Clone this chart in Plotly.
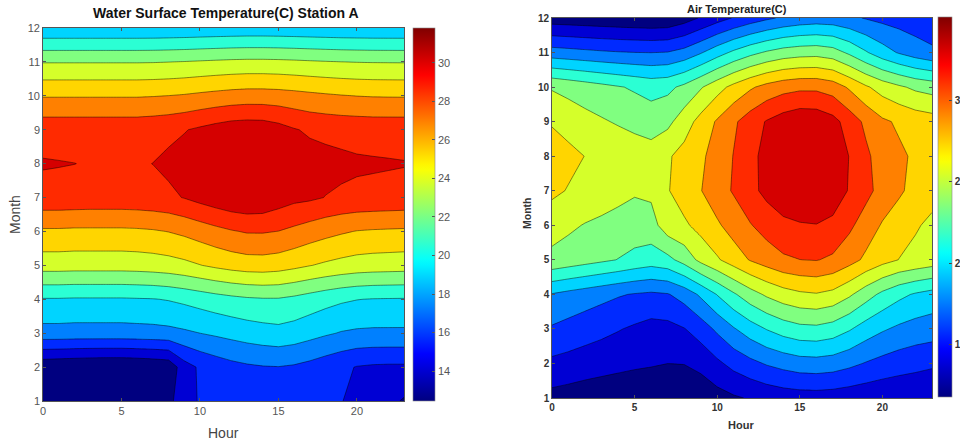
import plotly.graph_objects as go

# ---------------- data ----------------
hours = list(range(24))
months = list(range(1, 13))

# Water surface temperature (C), Station A : one list per month, hours 0..23
water_m1 = [14.1, 13.6, 13.5, 13.4, 13.4, 13.4, 13.45, 13.5, 13.6, 15.1, 15.8, 16.1, 16.3, 16.45, 16.5, 16.5, 16.4, 16.2, 15.9, 15.75, 15.1, 14.8, 14.5, 13.9]
water_m2 = [12.8, 12.7, 12.6, 12.5, 12.45, 12.45, 12.55, 12.7, 12.9, 15.0, 15.9, 16.4, 16.8, 17.05, 17.2, 17.25, 17.1, 16.8, 16.4, 16.0, 15.6, 15.45, 15.4, 15.4]
water_m3 = [18.3, 18.3, 18.25, 18.25, 18.25, 18.25, 18.3, 18.35, 18.45, 18.65, 18.9, 19.15, 19.4, 19.65, 19.85, 20.0, 19.8, 19.45, 19.1, 18.8, 18.65, 18.6, 18.6, 18.6]
water_m4 = [20.4, 20.4, 20.35, 20.35, 20.35, 20.35, 20.4, 20.45, 20.6, 20.85, 21.15, 21.45, 21.7, 21.9, 22.0, 22.0, 21.75, 21.4, 21.05, 20.75, 20.55, 20.45, 20.42, 20.4]
water_m5 = [24.45, 24.45, 24.4, 24.4, 24.4, 24.4, 24.45, 24.55, 24.7, 24.95, 25.3, 25.65, 25.95, 26.15, 26.2, 26.05, 25.75, 25.4, 25.1, 24.85, 24.65, 24.55, 24.5, 24.45]
water_m6 = [26.7, 26.7, 26.65, 26.65, 26.65, 26.65, 26.7, 26.8, 27.0, 27.3, 27.7, 28.1, 28.45, 28.7, 28.7, 28.55, 28.2, 27.8, 27.45, 27.15, 26.9, 26.8, 26.75, 26.7]
water_m7 = [29.7, 29.7, 29.65, 29.6, 29.6, 29.6, 29.65, 29.75, 29.9, 30.25, 30.7, 31.1, 31.45, 31.6, 31.5, 31.0, 30.6, 30.45, 30.15, 29.95, 29.85, 29.8, 29.75, 29.7]
water_m8 = [30.3, 30.25, 30.2, 30.1, 30.05, 30.0, 30.05, 30.2, 30.5, 30.85, 31.2, 31.5, 31.7, 31.8, 31.75, 31.55, 31.2, 30.9, 30.7, 30.55, 30.4, 30.35, 30.3, 30.25]
water_m9 = [29.6, 29.6, 29.6, 29.6, 29.6, 29.6, 29.6, 29.7, 29.85, 30.1, 30.45, 30.8, 31.1, 31.2, 31.15, 30.8, 30.3, 29.95, 29.8, 29.7, 29.65, 29.6, 29.6, 29.6]
water_m10 = [26.85, 26.85, 26.85, 26.85, 26.85, 26.85, 26.85, 26.9, 26.98, 27.1, 27.28, 27.45, 27.6, 27.7, 27.7, 27.63, 27.49, 27.32, 27.17, 27.04, 26.94, 26.88, 26.86, 26.85]
water_m11 = [23.65, 23.65, 23.65, 23.65, 23.65, 23.65, 23.65, 23.67, 23.72, 23.79, 23.88, 23.97, 24.05, 24.1, 24.1, 24.06, 23.99, 23.9, 23.82, 23.75, 23.7, 23.67, 23.66, 23.65]
water_m12 = [19.15, 19.15, 19.15, 19.15, 19.15, 19.15, 19.15, 19.16, 19.19, 19.23, 19.28, 19.33, 19.37, 19.4, 19.4, 19.38, 19.34, 19.29, 19.25, 19.2, 19.18, 19.16, 19.15, 19.15]

# Air temperature (C) : one list per month, hours 0..23
air_m1 = [13.1, 12.9, 12.7, 12.5, 12.3, 12.1, 11.95, 11.8, 11.9, 12.4, 13.0, 13.5, 13.9, 14.3, 14.6, 14.75, 14.8, 14.7, 14.5, 14.3, 14.1, 14.0, 13.95, 13.9]
air_m2 = [15.25, 15.0, 14.7, 14.5, 14.3, 14.1, 13.95, 13.75, 13.8, 14.3, 15.3, 16.3, 17.1, 17.8, 18.3, 18.7, 18.8, 18.6, 18.1, 17.5, 17.0, 16.6, 16.3, 16.0]
air_m3 = [17.4, 17.0, 16.6, 16.2, 15.8, 15.4, 15.0, 15.1, 15.6, 16.6, 18.0, 19.4, 20.6, 21.6, 22.4, 22.9, 23.0, 22.6, 21.7, 20.6, 19.8, 19.2, 18.8, 18.6]
air_m4 = [19.45, 19.0, 18.6, 18.2, 17.8, 17.5, 17.3, 17.5, 18.4, 19.9, 21.6, 23.2, 24.6, 25.7, 26.5, 27.0, 27.2, 26.8, 25.7, 24.3, 23.0, 22.0, 21.3, 20.8]
air_m5 = [25.0, 24.6, 24.2, 23.8, 23.4, 22.9, 22.5, 22.9, 24.2, 25.9, 27.1, 28.3, 29.4, 30.2, 30.9, 31.2, 31.3, 30.9, 30.0, 28.9, 28.0, 27.3, 26.9, 26.5]
air_m6 = [26.0, 25.7, 25.3, 25.0, 24.7, 24.5, 24.6, 26.5, 27.0, 28.0, 29.0, 30.1, 31.1, 32.0, 32.7, 33.0, 33.1, 32.7, 31.6, 30.3, 29.1, 28.2, 27.5, 27.0]
air_m7 = [27.8, 27.2, 26.7, 26.4, 26.0, 25.6, 25.8, 27.2, 28.3, 29.2, 30.4, 31.4, 32.6, 33.7, 34.5, 34.8, 34.8, 34.3, 33.0, 31.8, 30.5, 29.6, 28.6, 27.9]
air_m8 = [28.6, 27.9, 27.3, 27.0, 26.8, 26.5, 26.3, 27.1, 28.0, 29.0, 29.9, 31.3, 32.6, 33.8, 34.7, 35.1, 35.0, 34.5, 33.1, 31.6, 30.3, 29.6, 29.0, 28.5]
air_m9 = [27.1, 26.5, 26.0, 25.6, 25.2, 24.8, 24.4, 24.9, 26.4, 28.0, 29.5, 30.9, 32.2, 33.3, 34.1, 34.6, 34.5, 33.8, 32.3, 30.8, 29.6, 29.0, 28.5, 28.2]
air_m10 = [25.2, 24.8, 24.4, 24.0, 23.6, 23.2, 22.8, 23.0, 23.9, 25.2, 26.6, 27.9, 29.0, 29.9, 30.5, 30.8, 30.8, 30.3, 29.0, 27.6, 26.5, 25.7, 25.0, 24.6]
air_m11 = [18.5, 18.3, 18.1, 17.9, 17.75, 17.65, 17.6, 17.7, 18.3, 19.4, 20.7, 21.9, 22.9, 23.7, 24.3, 24.6, 24.7, 24.3, 23.1, 21.7, 20.4, 19.4, 18.6, 18.0]
air_m12 = [12.7, 12.6, 12.5, 12.4, 12.3, 12.2, 12.1, 12.2, 12.9, 13.9, 14.9, 15.8, 16.6, 17.3, 17.9, 18.3, 18.5, 18.4, 18.0, 17.5, 17.1, 16.8, 16.5, 16.3]

water_ticks = [14, 16, 18, 20, 22, 24, 26, 28, 30]
air_ticks = [15, 20, 25, 30]
x_ticks = [0, 5, 10, 15, 20]

water = [water_m1, water_m2, water_m3, water_m4, water_m5, water_m6,
         water_m7, water_m8, water_m9, water_m10, water_m11, water_m12]
air = [air_m1, air_m2, air_m3, air_m4, air_m5, air_m6,
       air_m7, air_m8, air_m9, air_m10, air_m11, air_m12]

# ---------------- styling helpers ----------------
W, H = 960, 443
FONT = "Liberation Sans, Arial, sans-serif"


def jet(v):
    def c(x):
        return max(0.0, min(1.0, x))
    r = c(1.5 - abs(4 * v - 3))
    g = c(1.5 - abs(4 * v - 2))
    b = c(1.5 - abs(4 * v - 1))
    return "rgb(%d,%d,%d)" % (round(r * 255), round(g * 255), round(b * 255))


N_LEV = 11  # contour levels -> 12 filled bands
# band j (0 = lowest) gets the jet colour of its lower level, like MATLAB contourf
band_scale = [[j / N_LEV, jet(j / (N_LEV + 1))] for j in range(N_LEV + 1)]
cont_scale = [[i / 63, jet(i / 63)] for i in range(64)]


def px_x(p):
    return p / W


def px_y(p):
    return 1 - p / H


def contour(z, xa, ya):
    flat = [v for row in z for v in row]
    zmin, zmax = min(flat), max(flat)
    step = (zmax - zmin) / (N_LEV + 1)
    return go.Contour(
        x=hours, y=months, z=z, xaxis=xa, yaxis=ya,
        autocontour=False,
        contours=dict(start=zmin + step, end=zmin + N_LEV * step, size=step,
                      coloring="fill", showlines=True),
        line=dict(color="rgba(0,0,0,0.75)", width=0.6, smoothing=0),
        colorscale=band_scale, showscale=False, hoverinfo="skip",
    ), zmin, zmax


def bar_trace(zmin, zmax, xa, ya, cb):
    return go.Scatter(
        x=[0], y=[1], xaxis=xa, yaxis=ya, mode="markers", hoverinfo="skip",
        showlegend=False,
        marker=dict(size=1, opacity=0, color=[zmin], cmin=zmin, cmax=zmax,
                    colorscale=cont_scale, showscale=True, colorbar=cb),
    )


fig = go.Figure()

c1, w_min, w_max = contour(water, "x", "y")
c2, a_min, a_max = contour(air, "x2", "y2")
fig.add_trace(c1)
fig.add_trace(c2)

fig.add_trace(bar_trace(w_min, w_max, "x", "y", dict(
    x=px_x(413), xanchor="left", xpad=0, ypad=0,
    y=px_y(214.5), yanchor="middle", len=373 / H, lenmode="fraction",
    thickness=22, thicknessmode="pixels",
    tickvals=water_ticks, ticks="inside", ticklen=3, tickcolor="#555",
    outlinewidth=0.6, outlinecolor="#888",
    tickfont=dict(family=FONT, size=11, color="#555"))))

fig.add_trace(bar_trace(a_min, a_max, "x2", "y2", dict(
    x=px_x(938), xanchor="left", xpad=0, ypad=0,
    y=px_y(207), yanchor="middle", len=380 / H, lenmode="fraction",
    thickness=14, thicknessmode="pixels",
    tickvals=air_ticks, ticks="inside", ticklen=3, tickcolor="#444",
    outlinewidth=0.6, outlinecolor="#888",
    tickfont=dict(family=FONT, size=10, color="#333", weight="bold"))))

axis_common = dict(showgrid=False, zeroline=False, showline=True, mirror="ticks",
                   linecolor="#555", linewidth=0.6, ticks="inside", ticklen=3,
                   tickcolor="#555")

fig.update_layout(
    width=W, height=H, margin=dict(l=0, r=0, t=0, b=0, autoexpand=False),
    paper_bgcolor="white", plot_bgcolor="white", showlegend=False,
    font=dict(family=FONT),
    xaxis=dict(domain=[px_x(43), px_x(404)], range=[0, 23], tickvals=x_ticks,
               anchor="y", tickfont=dict(size=11, color="#555"), **axis_common),
    yaxis=dict(domain=[px_y(401), px_y(28)], range=[1, 12], tickvals=months,
               anchor="x", tickfont=dict(size=11, color="#555"), **axis_common),
    xaxis2=dict(domain=[px_x(552), px_x(932)], range=[0, 23], tickvals=x_ticks,
                anchor="y2", tickfont=dict(size=10, color="#333", weight="bold"),
                **axis_common),
    yaxis2=dict(domain=[px_y(398), px_y(18)], range=[1, 12], tickvals=months,
                anchor="x2", tickfont=dict(size=10, color="#333", weight="bold"),
                **axis_common),
)

ann = [
    dict(text="<b>Water Surface Temperature(C) Station A</b>", x=px_x(226), y=px_y(13),
         font=dict(size=14, color="#111")),
    dict(text="Month", x=px_x(15), y=px_y(215), textangle=-90,
         font=dict(size=14, color="#444")),
    dict(text="Hour", x=px_x(223), y=px_y(433), font=dict(size=14, color="#444")),
    dict(text="<b>Air Temperature(C)</b>", x=px_x(737), y=px_y(9),
         font=dict(size=11, color="#222")),
    dict(text="<b>Month</b>", x=px_x(527), y=px_y(213), textangle=-90,
         font=dict(size=10.5, color="#333")),
    dict(text="<b>Hour</b>", x=px_x(741), y=px_y(425), font=dict(size=11, color="#333")),
]
for a in ann:
    a.update(xref="paper", yref="paper", showarrow=False, xanchor="center",
             yanchor="middle")
    a["font"]["family"] = FONT
fig.update_layout(annotations=ann)

fig.write_html("out.html")
